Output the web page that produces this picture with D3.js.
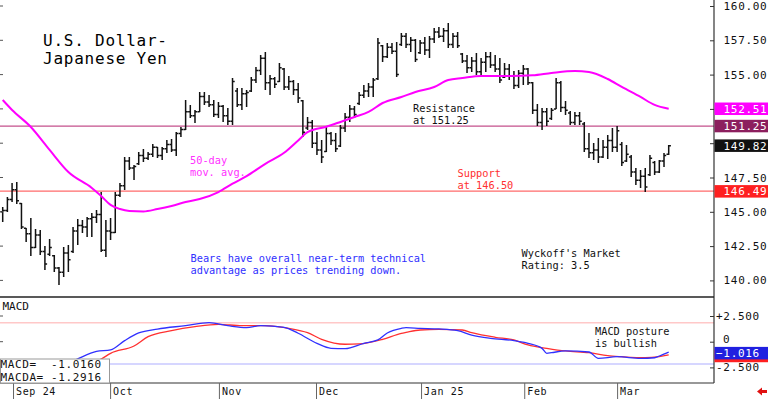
<!DOCTYPE html>
<html>
<head>
<meta charset="utf-8">
<script src="https://cdn.jsdelivr.net/npm/d3@7"></script>
<style>
	body { margin: 0; background: #fff; }
	svg { display: block; }
	text { font-family: 'DejaVu Sans Mono', monospace; }
</style>
</head>
<body>
<svg width="768" height="399"></svg>
<script>
// daily bars, Aug 29 2024 .. mid Mar 2025
const high = [
	145.35,146.08,147.10,147.17,145.64,143.82,144.55,143.75,143.67,142.51,
	143.02,141.85,140.97,142.43,142.58,143.89,144.47,144.40,144.62,144.91,
	145.13,146.44,144.40,144.55,146.44,147.10,148.99,148.99,148.41,149.36,
	149.58,149.36,149.94,149.72,149.72,150.23,150.31,150.81,151.18,153.15,
	152.79,152.42,153.73,153.73,153.52,153.15,153.00,152.79,152.57,154.75,
	154.02,154.02,153.88,154.83,155.56,156.43,156.65,154.97,154.83,155.85,
	155.48,154.90,154.61,154.39,153.15,151.91,151.69,150.81,150.23,151.18,
	150.81,150.74,151.33,152.20,152.79,152.71,153.73,154.24,154.39,154.75,
	157.67,157.16,157.31,157.31,157.38,158.03,158.03,157.74,157.60,157.52,
	157.74,157.82,158.40,158.47,158.40,158.76,158.03,158.11,156.58,156.43,
	156.29,156.58,156.21,156.65,156.65,156.43,156.21,155.85,155.77,155.26,
	155.34,155.70,155.48,154.46,152.86,152.57,152.57,152.57,154.75,154.53,
	153.08,152.35,152.28,152.28,151.55,150.74,150.01,150.38,150.23,150.60,
	151.11,151.26,150.09,149.87,149.14,148.19,148.05,148.19,149.14,148.70,
	148.78,149.29,149.87
]
const low = [
	144.26,144.99,145.71,145.57,143.75,142.80,141.78,142.36,141.85,140.76,
	141.78,140.61,139.67,140.25,140.61,142.00,142.58,143.45,143.16,143.16,
	144.18,142.07,141.71,142.94,143.45,146.08,146.59,148.05,147.32,148.41,
	148.63,148.78,148.99,148.92,148.78,149.29,149.36,149.07,150.45,150.96,
	151.84,151.47,152.28,152.79,152.64,151.91,151.84,151.55,151.33,151.33,
	152.64,152.42,152.64,153.73,154.39,154.97,153.88,153.52,154.02,154.46,
	153.88,153.88,153.52,152.93,150.45,150.96,149.65,149.14,148.56,149.36,
	149.87,149.36,149.72,150.81,151.55,151.84,152.79,153.30,153.37,153.37,
	154.61,155.92,156.21,156.50,154.83,157.09,156.94,156.65,155.92,156.50,
	156.43,156.21,157.31,157.67,157.38,156.94,156.94,156.94,155.85,155.12,
	155.19,154.97,154.83,155.19,155.48,155.19,154.39,154.75,154.61,153.95,
	154.02,154.24,154.24,152.13,151.26,150.96,151.26,151.69,152.49,152.28,
	152.06,151.33,151.33,151.33,149.36,148.92,148.78,148.56,148.92,148.85,
	149.36,149.36,148.34,148.63,147.54,146.95,146.73,146.44,147.61,147.68,
	147.83,148.27,149.14
]
const open = [
	145.0,145.1,145.9,146.6,145.6,143.8,143.4,142.4,143.3,142.1,
	141.9,141.8,140.9,140.6,142.0,142.1,143.6,144.0,143.9,144.5,
	144.6,144.8,142.2,143.6,143.5,146.2,146.9,148.7,148.2,148.5,
	149.1,148.9,149.2,149.7,149.1,149.6,149.9,149.5,150.7,151.0,
	152.3,152.0,152.3,153.4,153.0,152.8,152.1,152.7,152.0,151.6,
	153.8,152.8,153.6,153.8,154.6,155.3,156.2,154.4,154.7,154.5,
	155.4,154.1,154.5,153.9,153.1,151.1,151.5,150.0,149.5,149.4,
	150.7,150.2,149.8,151.1,151.9,152.5,152.9,153.5,153.8,154.1,
	154.7,157.1,156.3,157.0,156.7,157.2,157.8,157.2,157.5,156.6,
	157.3,156.8,157.6,158.1,157.8,158.2,157.2,157.8,156.5,156.0,
	155.5,156.0,155.2,155.9,156.3,155.7,155.4,154.8,155.4,154.9,
	154.2,155.1,155.4,154.4,152.4,151.5,152.3,151.8,152.5,154.4,
	152.6,152.2,151.5,152.0,151.4,149.6,149.3,149.5,149.0,149.7,
	150.2,149.7,149.9,148.7,149.0,147.9,147.3,147.6,147.7,148.6,
	147.9,148.7,149.2
]
const close = [
	145.1,145.9,146.6,145.8,143.9,143.4,142.4,143.3,142.1,141.2,
	142.4,140.9,140.6,142.0,141.5,143.6,144.0,143.9,144.5,144.6,
	144.8,142.2,143.6,143.5,146.2,146.9,148.7,148.2,148.3,149.1,
	148.9,149.2,149.7,149.1,149.6,149.9,149.5,150.7,151.0,152.3,
	152.0,152.3,153.4,153.0,152.8,152.1,152.7,152.0,151.6,154.5,
	152.8,153.6,153.7,154.6,155.3,156.2,154.4,154.7,154.3,155.5,
	154.1,154.5,153.9,153.3,150.8,151.5,150.0,149.5,149.0,150.7,
	150.2,149.6,151.1,151.9,152.5,152.1,153.5,153.8,154.1,154.6,
	157.3,156.3,157.0,156.7,155.0,157.8,157.2,157.5,156.1,157.3,
	156.8,157.6,158.1,157.8,158.2,157.2,157.8,157.1,156.0,155.5,
	156.0,155.2,155.9,156.3,155.7,155.4,154.6,155.4,154.9,154.2,
	155.1,155.4,154.4,152.4,151.5,152.3,151.6,152.4,154.4,152.6,
	152.4,151.5,152.0,151.6,149.6,149.3,149.5,149.0,149.7,150.2,
	149.7,150.9,148.6,149.2,147.9,147.3,147.6,146.8,148.9,147.9,
	148.7,149.1,149.82
]

// 50-day moving average, read at bar positions
const maIdx = [0,2,6,10,14,19,21,23,25,27,30,33,36,39,42,46,49,52,56,60,63,65,69,72,75,78,81,85,88,92,95,98,102,108,113,117,122,125,129,132,136,139,142]
const maVal = [153.15,152.42,151.18,149.51,147.90,146.74,146.15,145.50,145.20,145.06,145.03,145.20,145.42,145.71,145.93,146.44,147.05,147.6,148.5,149.3,150.2,150.8,151.2,151.55,151.91,152.28,152.93,153.37,153.73,154.10,154.61,154.75,154.90,154.90,154.95,155.12,155.26,155.19,154.68,154.10,153.37,152.79,152.51]

// MACD (blue) and its average (red)
const macdIdx = [13,16,20,23,26,29,33,39,44,48,52,55,60,63,67,70,73,77,80,82,85,86,89,93,97,100,104,109,112,115,116,117,120,125,127,131,136,139,140,142]
const macdVal = [-2.3,-1.68,-0.95,-0.8,0.1,0.85,1.23,1.56,1.85,1.56,1.36,1.56,1.40,0.82,-0.16,-0.64,-0.68,-0.16,0.17,0.85,1.30,1.36,1.30,1.24,1.07,0.65,0.33,0.10,-0.16,-0.65,-1.13,-1.07,-0.90,-1.0,-1.62,-1.46,-1.62,-1.56,-1.39,-1.016]
const sigIdx = [16,21,23,28,31,36,41,46,51,56,61,65,68,73,76,81,85,86,89,93,98,100,105,109,112,116,120,125,129,132,137,140,142]
const sigVal = [-2.3,-1.68,-1.13,-0.42,0.49,1.07,1.46,1.69,1.56,1.56,1.30,0.88,0.23,-0.25,-0.22,0.23,0.82,0.91,1.14,1.20,1.14,0.88,0.43,0.17,-0.32,-0.64,-0.9,-1.07,-1.36,-1.46,-1.56,-1.45,-1.29]

const priceTicks = [140, 142.5, 145, 147.5, 150, 152.5, 155, 157.5, 160]
const macdTicks = [-2.5, 0, 2.5]
const macdTickLabels = ['-2.500', '0', '+2.500']
const months = ['Sep 24', 'Oct', 'Nov', 'Dec', 'Jan 25', 'Feb', 'Mar']
const monthIdx = [2.2, 22.9, 46.1, 66.8, 89.2, 111.2, 131]

const resistance = 151.25
const support = 146.50
const macdBand = [1.85, -2.17]
const priceTags = [152.51, 151.25, 149.82, 146.49]
const macdTags = [-1.2916, -1.016]
const macdBoxLines = ['MACD=  -1.0160', 'MACDA= -1.2916']

const tagColors = ['#ff00ff', '#8c1f5e', '#111111', '#ff2020']
const macdTagColors = ['#ff2020', '#2020e0']

let svg = d3.select('svg')
const axisX = 714
const bottom = 383
const tagH = 12.5

let x = d3.scaleLinear().domain([0, high.length - 1]).range([2.7, 668.7])
let y = d3.scaleLinear().domain([140, 160]).range([280.4, 6])
let ym = d3.scaleLinear().domain([-2.5, 2.5]).range([367.4, 316])

function hline(yy, color, width) {
	svg.append('line')
		.attr('x1', 0).attr('x2', axisX)
		.attr('y1', yy).attr('y2', yy)
		.attr('stroke', color).attr('stroke-width', width)
}

function label(lines, px, py, color, size) {
	let t = svg.append('text')
		.attr('x', px).attr('y', py)
		.attr('fill', color).attr('font-size', size)
		.style('white-space', 'pre')
	lines.forEach((s, i) => {
		t.append('tspan').attr('x', px).attr('dy', i == 0 ? 0 : size * 1.12).text(s)
	})
	return t
}

// a tick label hidden under a value tag is not drawn
function underTag(v) {
	return priceTags.some(t => Math.abs(y(t) - y(v)) < tagH)
}

hline(y(resistance), '#c4508c', 1.2)
hline(y(support), '#ff6b6b', 1.2)
hline(ym(macdBand[0]), '#ffc8c8', 1.6)
hline(ym(macdBand[1]), '#c8c8ff', 1.6)

// price bars
let bars = high.map((h, i) => ({i: i, h: h, l: low[i], o: open[i], c: close[i]}))
svg.append('g')
	.attr('stroke', '#111').attr('stroke-width', 1.5).attr('fill', 'none')
	.selectAll('path')
	.data(bars)
	.join('path')
	.attr('d', d => {
		let cx = x(d.i)
		return 'M' + cx + ',' + y(d.h) + 'V' + y(d.l) +
			'M' + (cx - 2.2) + ',' + y(d.o) + 'H' + cx +
			'M' + cx + ',' + y(d.c) + 'H' + (cx + 2.2)
	})

svg.append('path')
	.datum(maIdx.map((d, i) => [d, maVal[i]]))
	.attr('fill', 'none').attr('stroke', '#ff00ff').attr('stroke-width', 2)
	.attr('d', d3.line().x(d => x(d[0])).y(d => y(d[1])).curve(d3.curveMonotoneX))

// macd lines
let mline = d3.line().x(d => x(d[0])).y(d => ym(d[1])).curve(d3.curveMonotoneX)
svg.append('path')
	.datum(sigIdx.map((d, i) => [d, sigVal[i]]))
	.attr('fill', 'none').attr('stroke', '#ff3030').attr('stroke-width', 1.3)
	.attr('d', mline)
svg.append('path')
	.datum(macdIdx.map((d, i) => [d, macdVal[i]]))
	.attr('fill', 'none').attr('stroke', '#3030ff').attr('stroke-width', 1.3)
	.attr('d', mline)

// text notes
svg.append('text').attr('x', 43).attr('y', 45.5)
	.attr('font-family', 'Liberation Sans, Arial, sans-serif').attr('font-size', 16)
	.attr('textLength', 124).attr('lengthAdjust', 'spacing')
	.text('U.S. Dollar-')
svg.append('text').attr('x', 43).attr('y', 64)
	.attr('font-family', 'Liberation Sans, Arial, sans-serif').attr('font-size', 16)
	.attr('textLength', 124).attr('lengthAdjust', 'spacing')
	.text('Japanese Yen')

label(['50-day', 'mov. avg.'], 190, 164, '#ff30ff', 10.3)
label(['Resistance', 'at 151.25'], 413, 112, '#111', 10.3)
label(['Support', 'at 146.50'], 457.5, 177, '#ff3030', 10.3)
label(['Bears have overall near-term technical', 'advantage as prices trending down.'], 190.5, 262, '#3030ff', 10.3)
label(["Wyckoff's Market", 'Rating: 3.5'], 521.5, 257, '#111', 10.3)
label(['MACD posture', 'is bullish'], 595, 335, '#111', 10.3)
label(['MACD'], 2.5, 310, '#111', 11)

// frame
svg.append('line').attr('x1', axisX).attr('x2', axisX).attr('y1', 0).attr('y2', bottom)
	.attr('stroke', '#333').attr('stroke-width', 1.2)
hline(297, '#222', 1.6)
hline(bottom, '#333', 1.2)

// price axis
svg.append('g')
	.attr('transform', 'translate(' + axisX + ',0)')
	.call(d3.axisRight(y).tickValues(priceTicks).tickFormat(d3.format('.2f')).tickSizeInner(-4).tickSizeOuter(0))
	.call(g => g.select('.domain').remove())
	.call(g => g.selectAll('line').attr('stroke', '#333'))
	.call(g => g.selectAll('text')
		.attr('x', 9.5).attr('font-family', 'DejaVu Sans Mono, monospace')
		.attr('font-size', 11).attr('letter-spacing', 0.7).attr('fill', '#111'))
	.call(g => g.selectAll('.tick').filter(d => underTag(d)).select('text').remove())

svg.append('g')
	.selectAll('line')
	.data(priceTicks)
	.join('line')
	.attr('x1', 0).attr('x2', 3)
	.attr('y1', d => y(d)).attr('y2', d => y(d))
	.attr('stroke', '#555')

svg.append('g')
	.selectAll('line')
	.data(macdTicks.slice(1))
	.join('line')
	.attr('x1', 0).attr('x2', 3)
	.attr('y1', d => ym(d)).attr('y2', d => ym(d))
	.attr('stroke', '#555')

// macd axis
svg.append('g')
	.attr('transform', 'translate(' + axisX + ',0)')
	.call(d3.axisRight(ym).tickValues(macdTicks).tickFormat((d, i) => macdTickLabels[i]).tickSizeInner(-4).tickSizeOuter(0))
	.call(g => g.select('.domain').remove())
	.call(g => g.selectAll('line').attr('stroke', '#333'))
	.call(g => g.selectAll('text')
		.attr('x', d => d == 0 ? 9 : 2).attr('y', d => d == 0 ? -2.5 : 0)
		.attr('font-family', 'DejaVu Sans Mono, monospace')
		.attr('font-size', 11).attr('letter-spacing', 0.7).attr('fill', '#111'))

// date axis
svg.append('g')
	.attr('transform', 'translate(0,' + bottom + ')')
	.call(d3.axisBottom(x).tickValues(monthIdx).tickFormat((d, i) => months[i]).tickSizeInner(16).tickSizeOuter(0))
	.call(g => g.select('.domain').remove())
	.call(g => g.selectAll('line').attr('stroke', '#666'))
	.call(g => g.selectAll('text')
		.attr('x', 2.5).attr('y', 11.5).attr('dy', 0)
		.attr('text-anchor', 'start').attr('font-family', 'DejaVu Sans Mono, monospace')
		.attr('font-size', 10).attr('letter-spacing', 0.65).attr('fill', '#111'))

// value tags at the right
svg.append('g')
	.selectAll('rect')
	.data(priceTags)
	.join('rect')
	.attr('x', axisX + 0.5).attr('width', 768 - axisX)
	.attr('y', d => y(d) - tagH / 2).attr('height', tagH)
	.attr('fill', (d, i) => tagColors[i])
svg.append('g')
	.selectAll('text')
	.data(priceTags)
	.join('text')
	.attr('x', 723.5).attr('y', d => y(d) + 4)
	.attr('font-size', 11).attr('letter-spacing', 0.7).attr('fill', '#fff')
	.text(d => d3.format('.2f')(d))

svg.append('g')
	.selectAll('rect')
	.data(macdTags)
	.join('rect')
	.attr('x', axisX + 0.5).attr('width', 768 - axisX)
	.attr('y', d => ym(d) - tagH / 2 + 1).attr('height', tagH)
	.attr('fill', (d, i) => macdTagColors[i])
svg.append('text')
	.attr('x', 716).attr('y', ym(macdTags[1]) + 5)
	.attr('font-size', 11).attr('letter-spacing', 0.7).attr('fill', '#fff')
	.text(d3.format('.3f')(macdTags[1]))

// macd readout box
svg.append('rect')
	.attr('x', 0.5).attr('y', 359).attr('width', 109).attr('height', bottom - 359)
	.attr('fill', '#fff').attr('stroke', '#999')
label(macdBoxLines, 0.5, 367.8, '#111', 11).attr('letter-spacing', 0.6)
	.selectAll('tspan').attr('dy', (d, i) => i == 0 ? 0 : 12.8)

// small red arrow
svg.append('path')
	.attr('d', 'M757,391.5 L762,387.5 L762,390 L767,390 L767,393 L762,393 L762,395.5 Z')
	.attr('fill', '#e01010')
</script>
</body>
</html>
